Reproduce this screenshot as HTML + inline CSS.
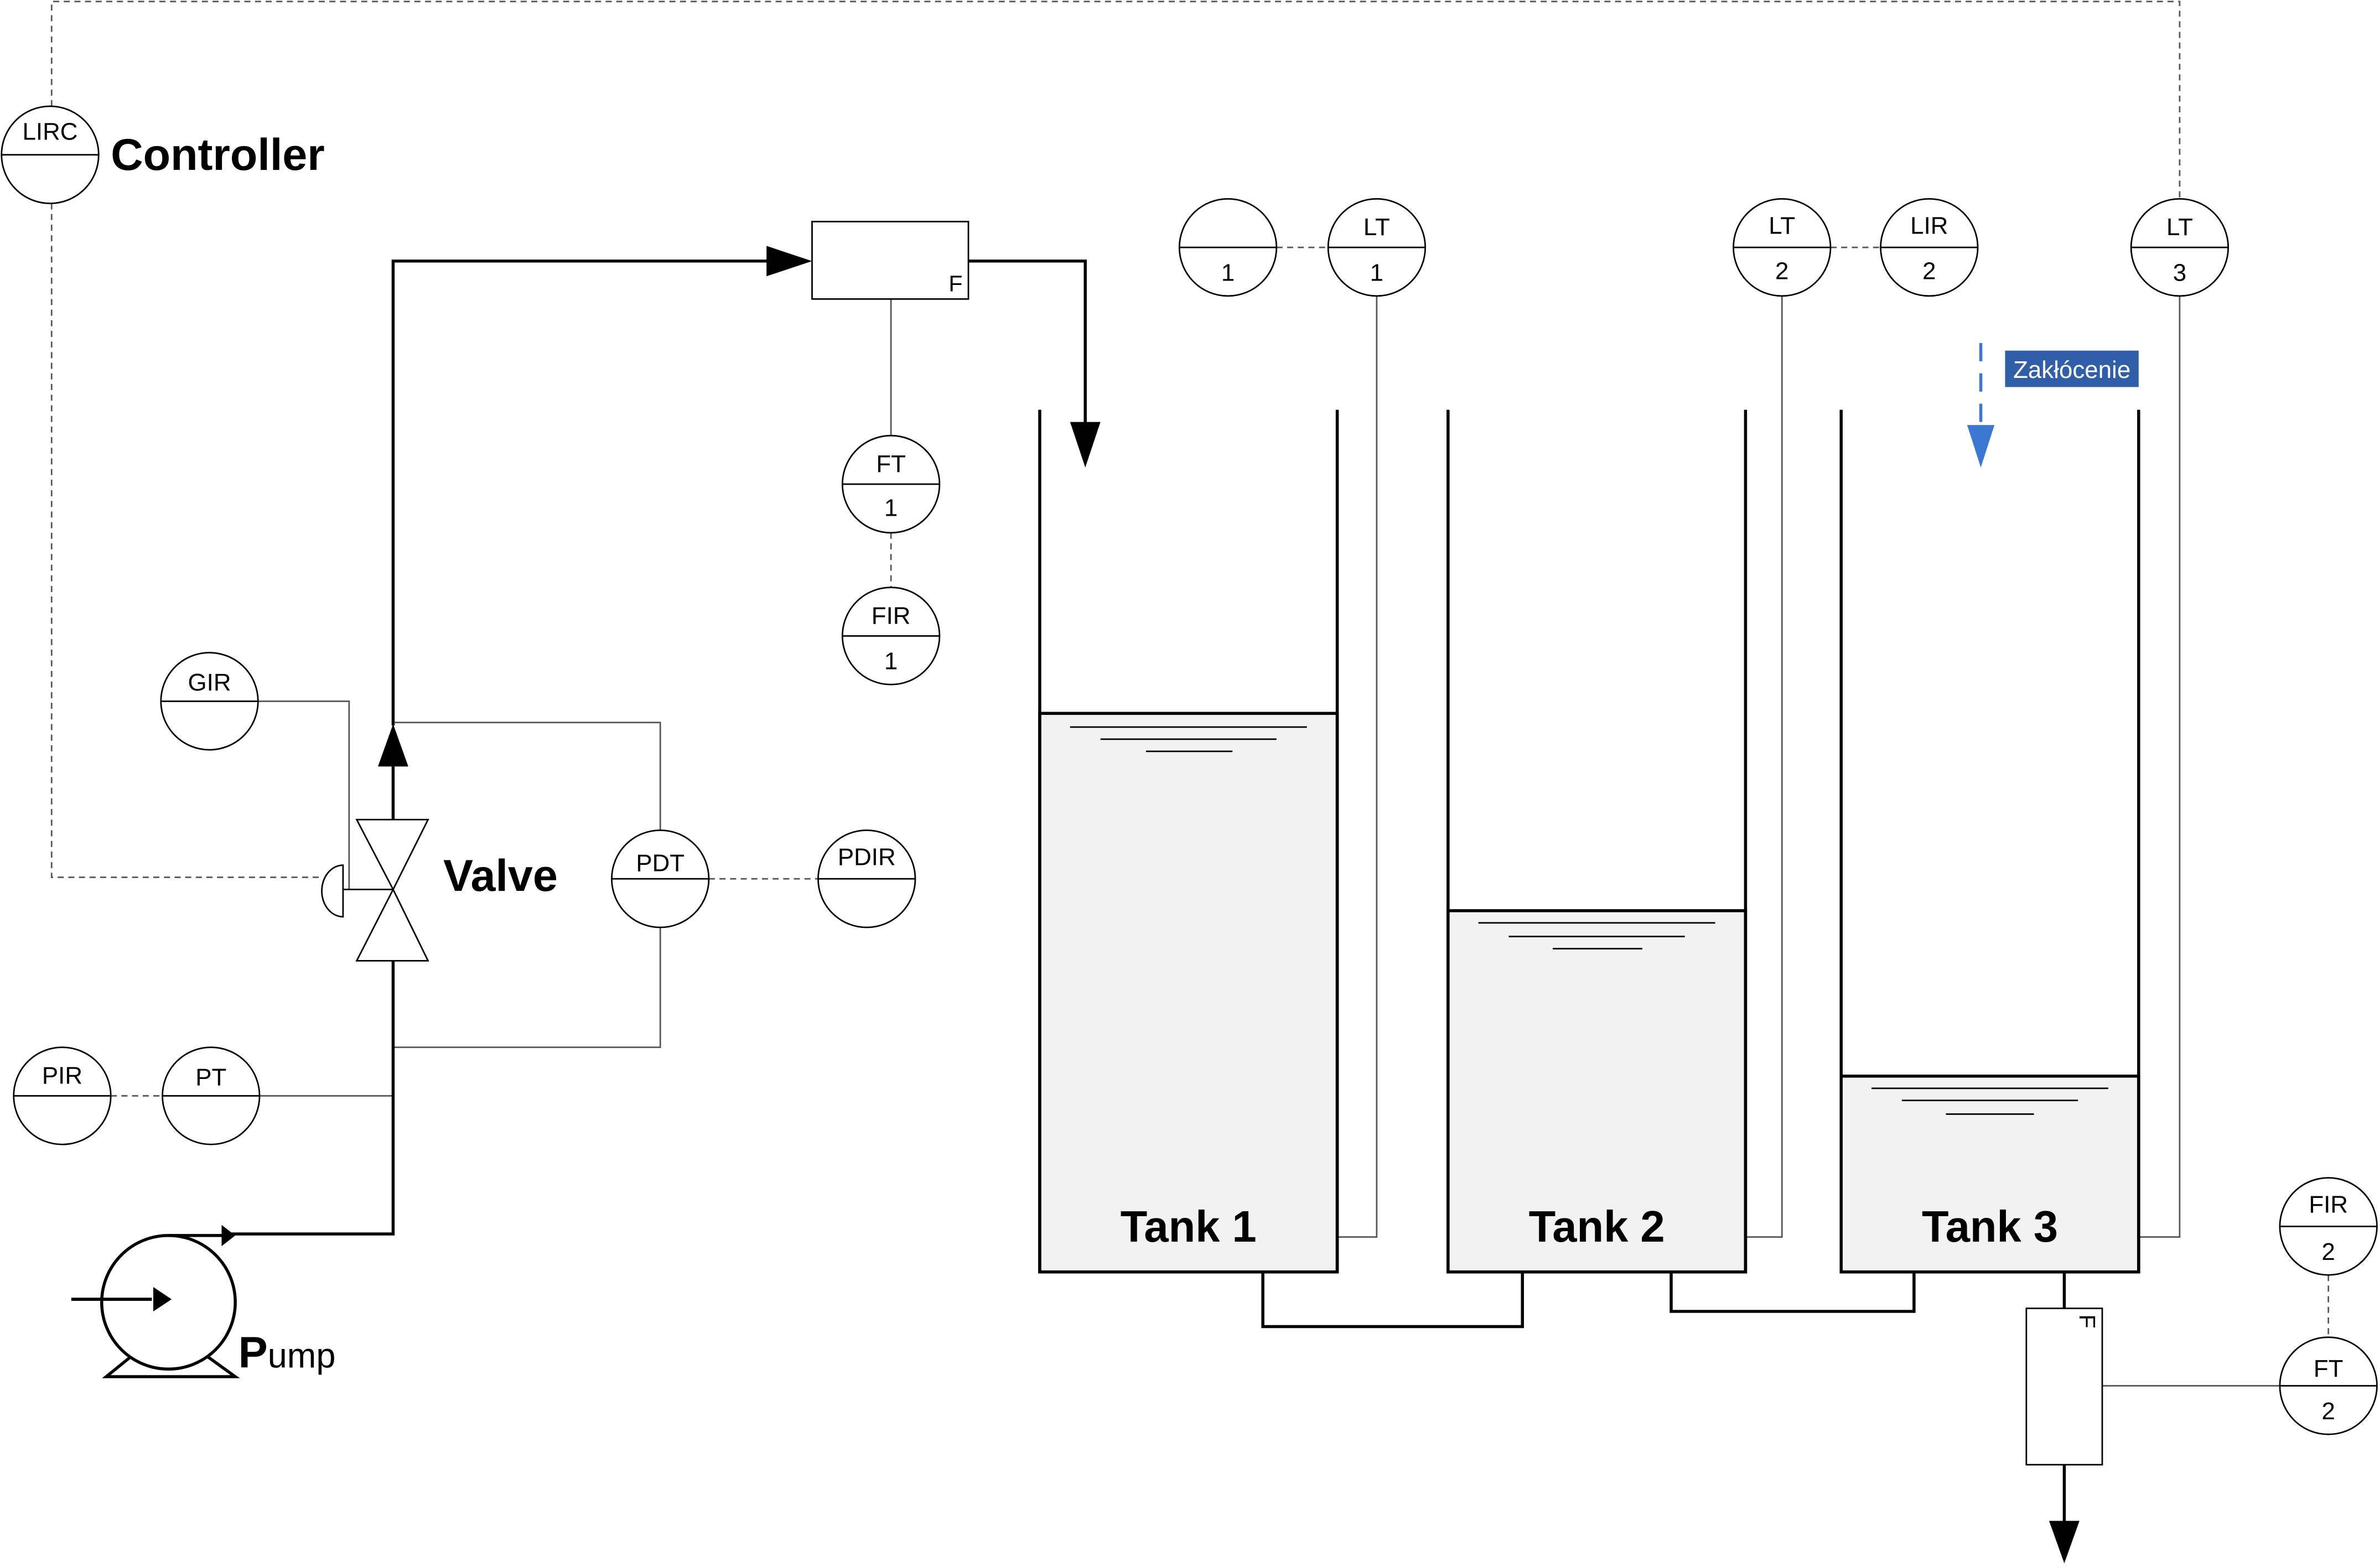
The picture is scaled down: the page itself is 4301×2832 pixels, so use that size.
<!DOCTYPE html>
<html><head><meta charset="utf-8"><style>
html,body{margin:0;padding:0;background:#fff;}
svg{display:block;}
text{font-family:"Liberation Sans",Arial,sans-serif;}
</style></head><body>
<svg width="4301" height="2832" viewBox="0 0 1568 1032.4" preserveAspectRatio="none" xmlns="http://www.w3.org/2000/svg">
<g fill="none" stroke="#555" stroke-width="1" stroke-dasharray="4,3">
<polyline points="34,70 34,1 1436,1 1436,131"/>
<polyline points="34,134 34,578 212,578"/>
<line x1="587" y1="351" x2="587" y2="387"/>
<line x1="467" y1="579" x2="539" y2="579"/>
<line x1="73" y1="722" x2="107" y2="722"/>
<line x1="841" y1="163" x2="875" y2="163"/>
<line x1="1206" y1="163" x2="1239" y2="163"/>
<line x1="1534" y1="840" x2="1534" y2="881"/>
</g>
<g fill="none" stroke="#555" stroke-width="1">
<line x1="587" y1="197" x2="587" y2="287"/>
<polyline points="170,462 230,462 230,586"/>
<polyline points="259,476 435,476 435,547"/>
<polyline points="435,611 435,690 259,690"/>
<line x1="171" y1="722" x2="259" y2="722"/>
<polyline points="907,195 907,815 881,815"/>
<polyline points="1174,195 1174,815 1150,815"/>
<polyline points="1436,195 1436,815 1409,815"/>
<line x1="1385" y1="913" x2="1502" y2="913"/>
</g>
<g fill="#f2f2f2" stroke="#000" stroke-width="2">
<rect x="685" y="470" width="196" height="368"/>
<rect x="954" y="600" width="196" height="238"/>
<rect x="1213" y="709" width="196" height="129"/>
</g>
<g stroke="#000" stroke-width="2" fill="none">
<polyline points="685,270 685,838 881,838 881,270"/>
<polyline points="954,270 954,838 1150,838 1150,270"/>
<polyline points="1213,270 1213,838 1409,838 1409,270"/>
<polyline points="832,838 832,874 1003,874 1003,838"/>
<polyline points="1101,838 1101,864 1261,864 1261,838"/>
<line x1="1360" y1="838" x2="1360" y2="862"/>
<line x1="1360" y1="965" x2="1360" y2="1004"/>
<polyline points="150,813 259,813 259,633"/>
<polyline points="259,540 259,505"/>
<polyline points="259,478 259,172 507,172"/>
<polyline points="638,172 715,172 715,280"/>
<line x1="47" y1="856" x2="100" y2="856"/>
<line x1="111" y1="814" x2="146" y2="814"/>
</g>
<g stroke="#000" stroke-width="1">
<line x1="705" y1="479" x2="861" y2="479"/><line x1="725" y1="487" x2="841" y2="487"/><line x1="755" y1="495" x2="812" y2="495"/>
<line x1="974" y1="608" x2="1130" y2="608"/><line x1="994" y1="617" x2="1110" y2="617"/><line x1="1023" y1="625" x2="1082" y2="625"/>
<line x1="1233" y1="717" x2="1389" y2="717"/><line x1="1253" y1="725" x2="1369" y2="725"/><line x1="1282" y1="734" x2="1340" y2="734"/>
</g>
<g fill="#000">
<polygon points="535,172 505,162 505,182"/>
<polygon points="715,308 705,278 725,278"/>
<polygon points="259,477 249,505 269,505"/>
<polygon points="1360,1030 1350,1002 1370,1002"/>
<polygon points="113,856 101,848 101,864"/>
<polygon points="155,814 146,807 146,821"/>
</g>
<g fill="#fff" stroke="#000" stroke-width="1">
<rect x="535" y="146" width="103" height="51"/>
<rect x="1335" y="862" width="50" height="103"/>
</g>
<text x="625" y="192" font-size="15">F</text>
<text x="1370" y="866" font-size="15" transform="rotate(90 1370 866)">F</text>
<g fill="#fff" stroke="#000" stroke-width="1">
<polygon points="235,540 282,540 259,586"/>
<polygon points="259,586 235,633 282,633"/>
<path d="M226,570 A14,17 0 0 0 226,604 Z"/>
<line x1="226" y1="586" x2="259" y2="586"/>
</g>
<g fill="none" stroke="#000" stroke-width="2">
<circle cx="111" cy="858" r="44"/>
<polyline points="86,894 70,907 155,907 137,894"/>
</g>
<line x1="47" y1="856" x2="100" y2="856" stroke="#000" stroke-width="2"/>
<polygon points="113,856 101,848 101,864" fill="#000"/>
<g fill="#fff" stroke="#000" stroke-width="1">
<circle cx="33" cy="102" r="32"/><line x1="1" y1="102" x2="65" y2="102"/>
<circle cx="587" cy="319" r="32"/><line x1="555" y1="319" x2="619" y2="319"/>
<circle cx="587" cy="419" r="32"/><line x1="555" y1="419" x2="619" y2="419"/>
<circle cx="138" cy="462" r="32"/><line x1="106" y1="462" x2="170" y2="462"/>
<circle cx="435" cy="579" r="32"/><line x1="403" y1="579" x2="467" y2="579"/>
<circle cx="571" cy="579" r="32"/><line x1="539" y1="579" x2="603" y2="579"/>
<circle cx="41" cy="722" r="32"/><line x1="9" y1="722" x2="73" y2="722"/>
<circle cx="139" cy="722" r="32"/><line x1="107" y1="722" x2="171" y2="722"/>
<circle cx="809" cy="163" r="32"/><line x1="777" y1="163" x2="841" y2="163"/>
<circle cx="907" cy="163" r="32"/><line x1="875" y1="163" x2="939" y2="163"/>
<circle cx="1174" cy="163" r="32"/><line x1="1142" y1="163" x2="1206" y2="163"/>
<circle cx="1271" cy="163" r="32"/><line x1="1239" y1="163" x2="1303" y2="163"/>
<circle cx="1436" cy="163" r="32"/><line x1="1404" y1="163" x2="1468" y2="163"/>
<circle cx="1534" cy="808" r="32"/><line x1="1502" y1="808" x2="1566" y2="808"/>
<circle cx="1534" cy="913" r="32"/><line x1="1502" y1="913" x2="1566" y2="913"/>
</g>
<g font-size="16" text-anchor="middle" fill="#000">
<text x="33" y="92">LIRC</text>
<text x="587" y="311">FT</text><text x="587" y="340">1</text>
<text x="587" y="411">FIR</text><text x="587" y="441">1</text>
<text x="138" y="455">GIR</text>
<text x="435" y="574">PDT</text>
<text x="571" y="570">PDIR</text>
<text x="41" y="714">PIR</text>
<text x="139" y="715">PT</text>
<text x="809" y="185">1</text>
<text x="907" y="155">LT</text><text x="907" y="185">1</text>
<text x="1174" y="154">LT</text><text x="1174" y="184">2</text>
<text x="1271" y="154">LIR</text><text x="1271" y="184">2</text>
<text x="1436" y="155">LT</text><text x="1436" y="185">3</text>
<text x="1534" y="799">FIR</text><text x="1534" y="830">2</text>
<text x="1534" y="907">FT</text><text x="1534" y="935">2</text>
</g>
<g font-weight="bold" fill="#000">
<text x="73" y="112" font-size="29.5">Controller</text>
<text x="292" y="587" font-size="29.5">Valve</text>
<text x="783" y="818" text-anchor="middle" font-size="29">Tank 1</text>
<text x="1052" y="818" text-anchor="middle" font-size="29">Tank 2</text>
<text x="1311" y="818" text-anchor="middle" font-size="29">Tank 3</text>
</g>
<text x="157" y="901" font-size="23" fill="#000"><tspan font-weight="bold" font-size="29">P</tspan>ump</text>
<line x1="1305" y1="226" x2="1305" y2="282" stroke="#3a78d4" stroke-width="2" stroke-dasharray="12,8"/>
<polygon points="1305,308 1296,280 1314,280" fill="#3a78d4"/>
<rect x="1321" y="231" width="88" height="24" fill="#2e5fa8"/>
<text x="1365" y="249" font-size="16" fill="#fff" text-anchor="middle">Zakłócenie</text>
</svg>
</body></html>
